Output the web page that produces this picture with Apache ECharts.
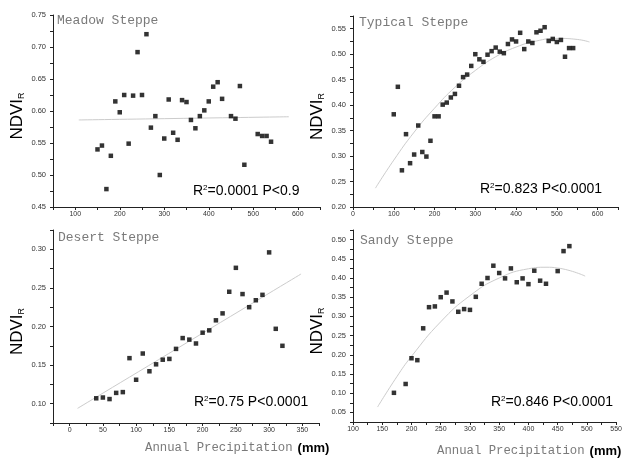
<!DOCTYPE html>
<html><head><meta charset="utf-8">
<script src="https://cdn.jsdelivr.net/npm/echarts@6/dist/echarts.min.js"></script>
<style>html,body{margin:0;padding:0;background:#fff}#c{width:625px;height:459px}</style>
</head><body><div id="c"></div>
<script>
// ---- data ----
const meadowX = [150,160,170,180,190,200,210,220,230,240,250,260,270,280,290,300,310,320,330,340,350,360,370,380,390,400,410,420,430,450,460,470,480,510,520,530,540];
const meadowY = [0.540,0.546,0.478,0.530,0.615,0.598,0.625,0.549,0.624,0.692,0.625,0.720,0.574,0.592,0.500,0.557,0.618,0.566,0.555,0.617,0.614,0.586,0.573,0.592,0.601,0.615,0.638,0.645,0.619,0.592,0.588,0.639,0.516,0.564,0.561,0.561,0.552];
const meadowFitX = [108,580];
const meadowFitY = [0.586,0.591];

const typicalX = [100,110,120,130,140,150,160,170,180,190,200,210,220,230,240,250,260,270,280,290,300,310,320,330,340,350,360,370,380,390,400,410,420,430,440,450,460,470,480,490,500,510,520,530,540];
const typicalY = [0.382,0.436,0.272,0.343,0.286,0.303,0.360,0.308,0.299,0.330,0.378,0.378,0.401,0.405,0.415,0.422,0.438,0.455,0.460,0.477,0.500,0.490,0.485,0.499,0.506,0.513,0.505,0.502,0.520,0.529,0.525,0.542,0.510,0.525,0.522,0.543,0.546,0.553,0.526,0.530,0.524,0.528,0.495,0.512,0.512];
const typicalFitX = [55,100,150,200,250,300,350,400,450,500,550,580];
const typicalFitY = [0.237,0.292,0.347,0.394,0.435,0.468,0.495,0.514,0.526,0.531,0.529,0.524];

const desertX = [40,50,60,70,80,90,100,110,120,130,140,150,160,170,180,190,200,210,220,230,240,250,260,270,280,290,300,310,320];
const desertY = [0.107,0.108,0.106,0.114,0.115,0.159,0.131,0.165,0.142,0.151,0.157,0.158,0.171,0.185,0.183,0.178,0.192,0.195,0.208,0.217,0.245,0.276,0.242,0.225,0.234,0.241,0.296,0.197,0.175];
const desertFitX = [12,348];
const desertFitY = [0.094,0.268];

const sandyX = [170,190,200,210,220,230,240,250,260,270,280,290,300,310,320,330,340,350,360,370,380,390,400,410,420,430,450,460,470];
const sandyY = [0.101,0.124,0.191,0.186,0.269,0.324,0.326,0.350,0.362,0.339,0.312,0.319,0.317,0.351,0.385,0.400,0.432,0.413,0.399,0.425,0.389,0.399,0.384,0.419,0.393,0.385,0.418,0.470,0.483];
const sandyFitX = [142,175,200,250,300,350,400,430,450,497];
const sandyFitY = [0.064,0.143,0.196,0.286,0.354,0.400,0.424,0.428,0.426,0.405];

const panelNames = ['Meadow Steppe','Typical Steppe','Desert Steppe','Sandy Steppe'];
const statLabels = [['2','=0.0001 P<0.9'],['2','=0.823 P<0.0001'],['2','=0.75 P<0.0001'],['2','=0.846 P<0.0001']];
const xLabel = 'Annual Precipitation';
const xUnit = '(mm)';

// ---- build ----
const pairs = (xs, ys) => xs.map((x, i) => [x, ys[i]]);
const grids = [
  {left: 53, top: 15, width: 267, height: 192},
  {left: 353, top: 16, width: 265, height: 191},
  {left: 53, top: 230, width: 266, height: 193},
  {left: 353, top: 230, width: 266, height: 192}
];
const xRanges = [[50,650,50,100],[0,650,50,100],[-25,375,25,50],[100,550,25,50]];
const yRanges = [[0.45,0.75],[0.20,0.575],[0.075,0.325],[0.025,0.525]];

const axisCommon = {
  axisLine: {onZero: false, lineStyle: {color: '#222', width: 1}},
  axisTick: {length: 3, lineStyle: {color: '#222'}},
  splitLine: {show: false}
};

const xAxes = xRanges.map((r, i) => Object.assign({}, axisCommon, {
  type: 'value', gridIndex: i, min: r[0], max: r[1], interval: r[2],
  axisLabel: {fontSize: 7, color: '#333', margin: 4, fontFamily: 'Liberation Sans',
    formatter: v => (Math.round(v) % r[3] === 0 ? String(Math.round(v)) : '')}
}));
const yAxes = yRanges.map((r, i) => Object.assign({}, axisCommon, {
  type: 'value', gridIndex: i, min: r[0], max: r[1], interval: 0.025,
  name: '{a|NDVI}{b|R}', nameLocation: 'middle', nameRotate: 90, nameGap: 27,
  nameTextStyle: {padding: [0, 10, 0, 0], rich: {
    a: {fontSize: 17, fontFamily: 'Liberation Sans', color: '#000'},
    b: {fontSize: 9, fontFamily: 'Liberation Sans', color: '#000', verticalAlign: 'bottom', padding: [5,0,0,0]}
  }},
  axisLabel: {fontSize: 7.5, color: '#333', margin: 7, fontFamily: 'Liberation Sans',
    formatter: v => (Math.abs(Math.round(v * 1000)) % 50 === 0 ? v.toFixed(2) : '')}
}));

const scatters = [[meadowX, meadowY],[typicalX, typicalY],[desertX, desertY],[sandyX, sandyY]];
const fits = [[meadowFitX, meadowFitY],[typicalFitX, typicalFitY],[desertFitX, desertFitY],[sandyFitX, sandyFitY]];
const series = [];
fits.forEach((f, i) => series.push({
  type: 'line', xAxisIndex: i, yAxisIndex: i, data: pairs(f[0], f[1]), smooth: true,
  showSymbol: false, lineStyle: {color: '#cccccc', width: 1}, silent: true, z: 1
}));
scatters.forEach((s, i) => series.push({
  type: 'scatter', xAxisIndex: i, yAxisIndex: i, data: pairs(s[0], s[1]),
  symbol: 'rect', symbolSize: 4.5, itemStyle: {color: '#000'}, z: 2
}));

const titlePos = [[57,14],[359,16],[58,231],[360,234]];
const statPos = [[193,184],[480,182],[194,395],[491,395]];
const titles = [];
panelNames.forEach((n, i) => titles.push({
  text: n, left: titlePos[i][0], top: titlePos[i][1], padding: 0,
  textStyle: {fontFamily: 'Liberation Mono', fontSize: 13, color: '#7a7a7a', fontWeight: 'normal'}
}));
statLabels.forEach((s, i) => titles.push({
  text: '{a|R}{s|' + s[0] + '}{a|' + s[1] + '}', left: statPos[i][0], top: statPos[i][1], padding: 0,
  textStyle: {fontWeight: 'normal', rich: {
    a: {fontFamily: 'Liberation Sans', fontSize: 14, color: '#000', fontWeight: 'normal'},
    s: {fontFamily: 'Liberation Sans', fontSize: 8, color: '#000', fontWeight: 'normal', verticalAlign: 'top', padding: [0,0,6,0]}
  }}
}));
[[145,439],[437,442]].forEach(p => titles.push({
  text: '{a|' + xLabel + '} {b|' + xUnit + '}', left: p[0], top: p[1], padding: 0,
  textStyle: {fontWeight: 'normal', rich: {
    a: {fontFamily: 'Liberation Mono', fontSize: 12.3, color: '#7a7a7a', fontWeight: 'normal'},
    b: {fontFamily: 'Liberation Sans', fontSize: 13, color: '#000', fontWeight: 'bold'}
  }}
}));

const chart = echarts.init(document.getElementById('c'), null, {renderer: 'canvas'});
chart.setOption({
  animation: false,
  backgroundColor: '#fff',
  title: titles,
  grid: grids,
  xAxis: xAxes,
  yAxis: yAxes,
  series: series
});
</script></body></html>
